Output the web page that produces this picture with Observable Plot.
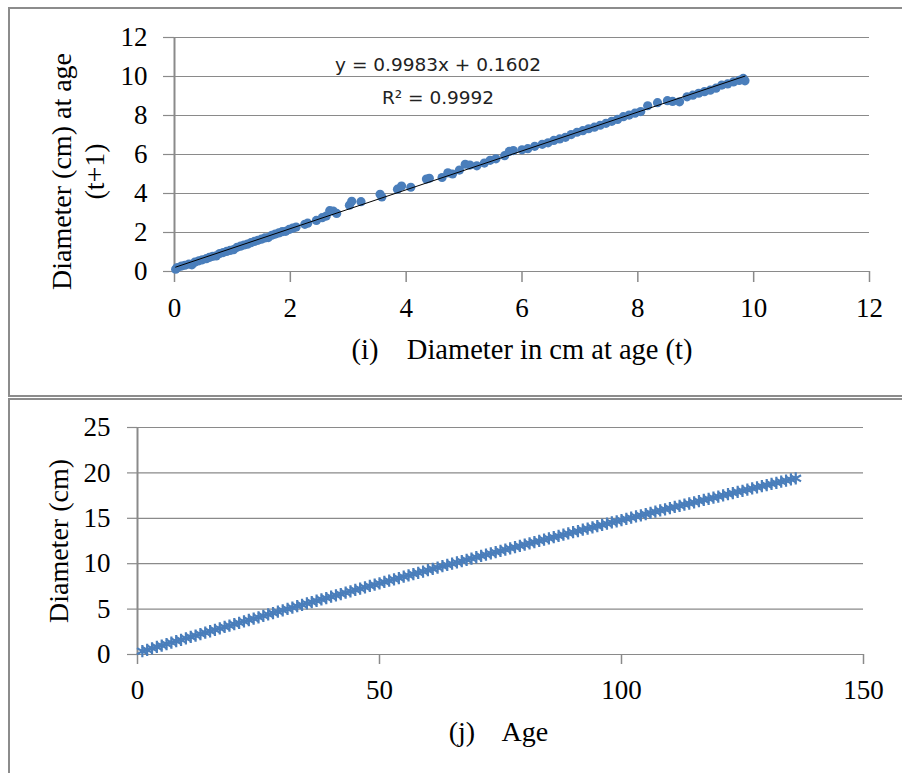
<!DOCTYPE html>
<html>
<head>
<meta charset="utf-8">
<script src="https://cdn.jsdelivr.net/npm/d3@7"></script>
<script src="https://cdn.jsdelivr.net/npm/@observablehq/plot@0.6"></script>
<style>
  html, body { margin: 0; padding: 0; background: #fff; }
  body { width: 902px; height: 773px; overflow: hidden; position: relative; }
  .panel { position: absolute; border: 2px solid #8c8c8c; box-sizing: content-box; }
  #p1 { left: 8px; top: 7px; width: 1000px; height: 386px; }
  #p2 { left: 8px; top: 398px; width: 1000px; height: 500px; }
  .chart { position: absolute; left: 0; }
  #c1 { top: 0; }
  #c2 { top: 399px; }
</style>
</head>
<body>
<div class="panel" id="p1"></div>
<div class="panel" id="p2"></div>
<div class="chart" id="c1"></div>
<div class="chart" id="c2"></div>
<script>
// ---------- Panel (i): diameter at age t vs diameter at age t+1 ----------
const diamT = [0.02,0.05,0.12,0.18,0.25,0.30,0.35,0.42,0.48,0.55,0.60,0.66,0.72,0.78,0.84,0.90,0.96,1.02,1.08,1.14,1.20,1.26,1.32,1.38,1.44,1.50,1.56,1.62,1.68,1.74,1.80,1.86,1.92,1.98,2.04,2.10,2.25,2.30,2.45,2.55,2.62,2.68,2.74,2.80,3.02,3.06,3.22,3.55,3.58,3.85,3.92,4.08,4.35,4.40,4.62,4.72,4.80,4.92,5.02,5.10,5.22,5.35,5.45,5.55,5.70,5.78,5.85,6.00,6.10,6.22,6.35,6.45,6.55,6.65,6.75,6.85,6.95,7.05,7.15,7.25,7.35,7.45,7.55,7.65,7.75,7.85,7.95,8.05,8.17,8.34,8.51,8.60,8.72,8.85,8.95,9.05,9.15,9.25,9.35,9.45,9.55,9.65,9.75,9.82,9.85];
const diamT1 = [0.12,0.20,0.28,0.32,0.38,0.34,0.48,0.55,0.60,0.66,0.72,0.78,0.80,0.92,0.97,1.03,1.08,1.12,1.24,1.30,1.36,1.40,1.48,1.54,1.60,1.66,1.72,1.74,1.86,1.92,1.98,2.04,2.06,2.16,2.22,2.28,2.42,2.48,2.62,2.76,2.84,3.12,3.10,2.98,3.40,3.60,3.58,3.96,3.82,4.22,4.38,4.32,4.74,4.78,4.82,5.06,5.00,5.20,5.50,5.46,5.42,5.56,5.70,5.78,5.94,6.16,6.20,6.24,6.30,6.42,6.52,6.60,6.72,6.80,6.88,7.02,7.14,7.22,7.32,7.40,7.50,7.60,7.70,7.80,7.94,8.02,8.12,8.20,8.50,8.66,8.76,8.72,8.70,8.96,9.04,9.14,9.22,9.30,9.40,9.56,9.62,9.72,9.80,9.90,9.78];
const topTicks = [0, 2, 4, 6, 8, 10, 12];
const topXLabel = "(i)\u00a0\u00a0\u00a0 Diameter in cm at age (t)";
const topYLabel = "Diameter (cm) at age\n(t+1)";
const eqLine = "y = 0.9983x + 0.1602";
const r2Line = "R\u00b2 = 0.9992";

// ---------- Panel (j): diameter vs age ----------
const ageStart = 1;
const diameter = [0.36,0.52,0.68,0.84,0.99,1.15,1.31,1.47,1.62,1.78,1.94,2.09,2.25,2.41,2.56,2.72,2.87,3.03,3.18,3.34,3.49,3.64,3.80,3.95,4.10,4.26,4.41,4.56,4.71,4.87,5.02,5.17,5.32,5.47,5.62,5.77,5.92,6.07,6.22,6.37,6.51,6.66,6.81,6.96,7.11,7.25,7.40,7.55,7.69,7.84,7.99,8.13,8.28,8.42,8.57,8.71,8.86,9.00,9.14,9.29,9.43,9.57,9.72,9.86,10.00,10.14,10.28,10.43,10.57,10.71,10.85,10.99,11.13,11.27,11.41,11.55,11.69,11.82,11.96,12.10,12.24,12.38,12.51,12.65,12.79,12.92,13.06,13.20,13.33,13.47,13.60,13.74,13.87,14.00,14.14,14.27,14.41,14.54,14.67,14.81,14.94,15.07,15.20,15.33,15.46,15.60,15.73,15.86,15.99,16.12,16.25,16.38,16.51,16.63,16.76,16.89,17.02,17.15,17.27,17.40,17.53,17.66,17.78,17.91,18.03,18.16,18.29,18.41,18.54,18.66,18.78,18.91,19.03,19.16,19.28,19.40];
const bottomXTicks = [0, 50, 100, 150];
const bottomYTicks = [0, 5, 10, 15, 20, 25];
const bottomXLabel = "(j)\u00a0\u00a0\u00a0 Age";
const bottomYLabel = "Diameter (cm)";

const blue = "#4a7ebb";
const gridColor = "#8a8a8a";
const serif = "'Liberation Serif', 'Times New Roman', serif";
const tickFont = 27;

const topData = diamT.map((t, i) => ({t, t1: diamT1[i]}));
const bottomData = diameter.map((d, i) => ({age: ageStart + i, d}));

const chart1 = Plot.plot({
  width: 902, height: 396,
  marginLeft: 174, marginRight: 33, marginTop: 37, marginBottom: 125,
  x: {domain: [0, 12]},
  y: {domain: [0, 12]},
  style: {background: "transparent", overflow: "visible", fontFamily: serif, color: "#000"},
  marks: [
    Plot.gridY(topTicks, {stroke: gridColor, strokeOpacity: 1, strokeWidth: 1.2}),
    Plot.ruleX([0], {stroke: gridColor, strokeWidth: 2}),
    Plot.axisY(topTicks, {tickSize: 11, tickPadding: 16, stroke: gridColor, strokeWidth: 1.2, fontSize: tickFont, fontFamily: serif, fill: "#000", label: null, tickFormat: d => String(d)}),
    Plot.axisX(topTicks, {tickSize: 11, tickPadding: 15, stroke: gridColor, strokeWidth: 1.5, fontSize: tickFont, fontFamily: serif, fill: "#000", label: null, tickFormat: d => String(d)}),
    Plot.dot(topData, {x: "t", y: "t1", r: 4.6, fill: blue, stroke: null}),
    Plot.linearRegressionY(topData, {x: "t", y: "t1", stroke: "#000", strokeWidth: 1, ci: 0}),
    Plot.text([eqLine], {frameAnchor: "top", dx: -84, dy: 33, lineAnchor: "bottom", fontFamily: "'DejaVu Sans', sans-serif", fontSize: 18.5, fill: "#222"}),
    Plot.text([r2Line], {frameAnchor: "top", dx: -84, dy: 66, lineAnchor: "bottom", fontFamily: "'DejaVu Sans', sans-serif", fontSize: 18.5, fill: "#222"}),
    Plot.text([topXLabel], {frameAnchor: "bottom", dy: 87, lineAnchor: "bottom", fontFamily: serif, fontSize: 28.5, fill: "#000"}),
    Plot.text([topYLabel], {frameAnchor: "left", textAnchor: "middle", dx: -98, dy: 17, rotate: -90, lineAnchor: "middle", lineHeight: 1.18, fontFamily: serif, fontSize: 28, fill: "#000"})
  ]
});
document.getElementById("c1").appendChild(chart1);

const chart2 = Plot.plot({
  width: 902, height: 374,
  marginLeft: 137, marginRight: 39, marginTop: 28, marginBottom: 119,
  x: {domain: [0, 150]},
  y: {domain: [0, 25]},
  style: {background: "transparent", overflow: "visible", fontFamily: serif, color: "#000"},
  marks: [
    Plot.gridY(bottomYTicks, {stroke: gridColor, strokeOpacity: 1, strokeWidth: 1.2}),
    Plot.ruleX([0], {stroke: gridColor, strokeWidth: 2}),
    Plot.axisY(bottomYTicks, {tickSize: 10, tickPadding: 17, stroke: gridColor, strokeWidth: 1.2, fontSize: tickFont, fontFamily: serif, fill: "#000", label: null, tickFormat: d => String(d)}),
    Plot.axisX(bottomXTicks, {tickSize: 10, tickPadding: 15, stroke: gridColor, strokeWidth: 1.5, fontSize: tickFont, fontFamily: serif, fill: "#000", label: null, tickFormat: d => String(d)}),
    Plot.dot(bottomData, {x: "age", y: "d", symbol: "asterisk", r: 5.8, stroke: blue, strokeWidth: 2.2}),
    Plot.text([bottomXLabel], {frameAnchor: "bottom", dx: -2, dy: 86, lineAnchor: "bottom", fontFamily: serif, fontSize: 28, fill: "#000"}),
    Plot.text([bottomYLabel], {frameAnchor: "left", textAnchor: "middle", dx: -70, dy: 0, rotate: -90, lineAnchor: "bottom", fontFamily: serif, fontSize: 28, fill: "#000"})
  ]
});
document.getElementById("c2").appendChild(chart2);
</script>
</body>
</html>
